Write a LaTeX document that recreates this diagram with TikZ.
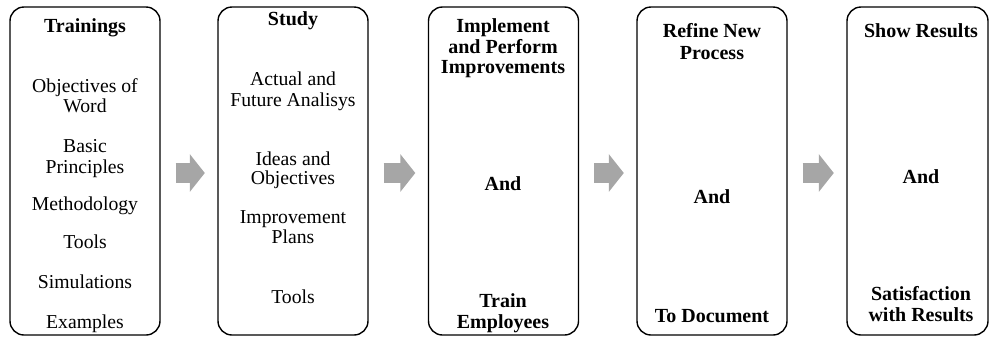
\documentclass[tikz,border=0pt]{standalone}
\usepackage{fontspec}
\setmainfont{Liberation Serif}
\usetikzlibrary{arrows.meta}
\definecolor{arrowgray}{HTML}{A6A6A6}
\begin{document}
\begin{tikzpicture}[x=1pt,y=-1pt,
  stage/.style={draw=black, line width=1.4pt, rounded corners=14pt, inner sep=0pt, minimum height=328pt, minimum width=150pt},
  txt/.style={anchor=base, inner sep=0pt, font=\fontsize{19.7}{20}\selectfont},
  head/.style={anchor=base, inner sep=0pt, font=\fontsize{20}{20}\selectfont\bfseries},
  blockarrow/.style={draw=arrowgray, line width=20pt, line cap=butt, -{Triangle[width=37pt,length=15pt]}}
]
\useasboundingbox (0,0) rectangle (989,338);
% boxes
\node[stage] (b1) at (85,171) {};
\node[stage] (b2) at (293,171) {};
\node[stage] (b3) at (503.5,171) {};
\node[stage] (b4) at (712,171) {};
\node[stage, minimum width=141pt] (b5) at (917.5,171) {};
% arrows
\draw[blockarrow] ([xshift=15pt,yshift=-2pt]b1.east) -- ([xshift=-12.5pt,yshift=-2pt]b2.west);
\draw[blockarrow] ([xshift=15pt,yshift=-2pt]b2.east) -- ([xshift=-12.5pt,yshift=-2pt]b3.west);
\draw[blockarrow] ([xshift=15pt,yshift=-2pt]b3.east) -- ([xshift=-12.5pt,yshift=-2pt]b4.west);
\draw[blockarrow] ([xshift=15pt,yshift=-2pt]b4.east) -- ([xshift=-12.5pt,yshift=-2pt]b5.west);
% box 1
\node[head] (t1a) at (85,32) {Trainings};
\node[txt] (t1b) at (85,92) {Objectives of};
\node[txt] (t1c) at (85,112) {Word};
\node[txt] (t1d) at (85,152) {Basic};
\node[txt] (t1e) at (85,173) {Principles};
\node[txt] (t1f) at (85,210) {Methodology};
\node[txt] (t1g) at (85,248) {Tools};
\node[txt] (t1h) at (85,288) {Simulations};
\node[txt] (t1i) at (85,328) {Examples};
% box 2
\node[head] (t2a) at (293,25) {Study};
\node[txt] (t2b) at (293,85) {Actual and};
\node[txt] (t2c) at (293,106) {Future Analisys};
\node[txt] (t2d) at (293,165) {Ideas and};
\node[txt] (t2e) at (293,184) {Objectives};
\node[txt] (t2f) at (293,223) {Improvement};
\node[txt] (t2g) at (293,243) {Plans};
\node[txt] (t2h) at (293,303) {Tools};
% box 3
\node[head] (t3a) at (503,32) {Implement};
\node[head] (t3b) at (503,53) {and Perform};
\node[head] (t3c) at (503,73) {Improvements};
\node[head] (t3d) at (503,190) {And};
\node[head] (t3e) at (503,307) {Train};
\node[head] (t3f) at (503,328) {Employees};
% box 4
\node[head] (t4a) at (712,37) {Refine New};
\node[head] (t4b) at (712,59) {Process};
\node[head] (t4c) at (712,203) {And};
\node[head] (t4d) at (712,322) {To Document};
% box 5
\node[head] (t5a) at (921,37) {Show Results};
\node[head] (t5b) at (921,183) {And};
\node[head] (t5c) at (921,300) {Satisfaction};
\node[head] (t5d) at (921,321) {with Results};
\end{tikzpicture}
\end{document}
